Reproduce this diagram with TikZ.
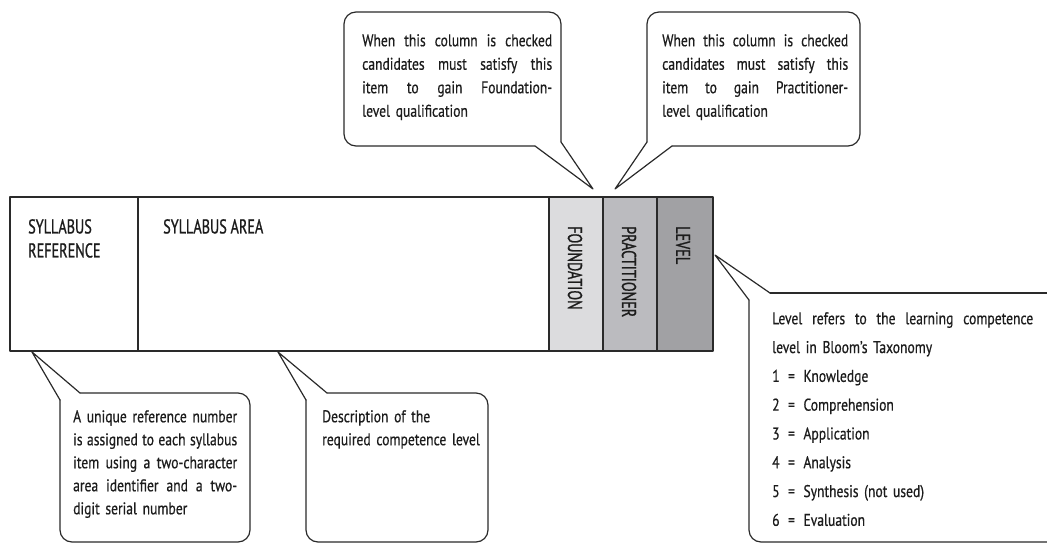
\documentclass[tikz,border=0pt]{standalone}
\usepackage{fontspec}
\setmainfont{PT Sans}
\newfontfamily\bodyf[FakeStretch=0.8,FakeBold=0.6]{PT Sans}
\newfontfamily\capf[FakeStretch=0.71,FakeBold=1.0]{PT Sans}
\definecolor{linec}{HTML}{2A2A2A}
\definecolor{textc}{HTML}{1C1C1C}
\definecolor{fcol}{HTML}{DCDCDE}
\definecolor{pcol}{HTML}{BBBBBF}
\definecolor{lcol}{HTML}{A1A1A4}
\newcommand\jline[2]{\leavevmode\hbox to #1{\spaceskip=0.25em plus 1fill\relax #2}}
\begin{document}
\begin{tikzpicture}[x=1pt,y=-1pt,
  outline/.style={draw=linec, line width=1.2pt, line join=round, line cap=round},
  bubble/.style={outline, rounded corners=12pt},
  body/.style={inner sep=0pt, anchor=north west, align=left, text=textc,
    font=\bodyf\fontsize{17}{23.5}\selectfont},
  head/.style={inner sep=0pt, anchor=north west, align=left, text=textc,
    font=\capf\fontsize{20}{24}\selectfont},
  vhead/.style={inner sep=0pt, anchor=west, rotate=-90, text=textc,
    font=\capf\fontsize{20}{24}\selectfont}]
\useasboundingbox (0,0) rectangle (1047,544);
\clip (0,0) rectangle (1047,544);

% main table row
\fill[fcol] (549,197) rectangle (603,351);
\fill[pcol] (603,197) rectangle (657,351);
\fill[lcol] (657,197) rectangle (713,351);
\draw[outline] (10,197) rectangle (713,351);
\draw[outline] (138,197) -- (138,351);
\draw[outline] (549,197) -- (549,351);
\draw[outline] (603,197) -- (603,351);
\draw[outline] (657,197) -- (657,351);

\node[head] (sref) at (28,219) {SYLLABUS\\REFERENCE};
\node[head] (sarea) at (163,219) {SYLLABUS AREA};
\node[vhead] (found) at (575,226) {FOUNDATION};
\node[vhead] (pract) at (629,226) {PRACTITIONER};
\node[vhead] (lev) at (683,226) {LEVEL};

% tail tips
\coordinate (tipF) at (593,189);
\coordinate (tipP) at (615,189);
\coordinate (tipL) at (715,255);
\coordinate (tipR) at (32,352);
\coordinate (tipA) at (278,352);

% callout 1 (Foundation)
\draw[bubble] (535,146) -- (344,146) -- (344,12) -- (561,12) -- (561,142);
\draw[outline] (561,142) -- (tipF) -- (535,146);
\node[body, text width=190pt] (c1) at (362,34) {%
\jline{190pt}{When this column is checked}\\
\jline{190pt}{candidates must satisfy this}\\
\jline{190pt}{item to gain Foundation-}\\
level qualification};

% callout 2 (Practitioner)
\draw[bubble] (672,146) -- (860,146) -- (860,12) -- (647,12) -- (647,142);
\draw[outline] (647,142) -- (tipP) -- (672,146);
\node[body, text width=186pt] (c2) at (662,34) {%
\jline{186pt}{When this column is checked}\\
\jline{186pt}{candidates must satisfy this}\\
\jline{186pt}{item to gain Practitioner-}\\
level qualification};

% callout 3 (Level)
\draw[bubble] (1070,293) -- (770,293);
\draw[outline] (770,293) -- (tipL) -- (749,300);
\draw[bubble] (749,300) -- (749,542) -- (1070,542);
\node[body, text width=261pt, font=\bodyf\fontsize{17}{28.8}\selectfont] (c3) at (772,312) {%
\jline{261pt}{Level refers to the learning competence}\\
level in Bloom’s Taxonomy\\
1 \,= \,Knowledge\\
2 \,= \,Comprehension\\
3 \,= \,Application\\
4 \,= \,Analysis\\
5 \,= \,Synthesis (not used)\\
6 \,= \,Evaluation};

% callout 4 (Reference)
\draw[bubble] (80,393) -- (250,393) -- (250,542) -- (60,542) -- (60,400);
\draw[outline] (60,400) -- (tipR) -- (80,393);
\node[body, text width=164pt, font=\bodyf\fontsize{17}{23}\selectfont] (c4) at (73,410) {%
\jline{164pt}{A unique reference number}\\
\jline{164pt}{is assigned to each syllabus}\\
\jline{164pt}{item using a two-character}\\
\jline{164pt}{area identifier and a two-}\\
digit serial number};

% callout 5 (Area)
\draw[bubble] (327,393) -- (488,393) -- (488,542) -- (306,542) -- (306,400);
\draw[outline] (306,400) -- (tipA) -- (327,393);
\node[body, text width=165pt, font=\bodyf\fontsize{17}{23}\selectfont] (c5) at (322,410) {%
Description of the\\
required competence level};
\end{tikzpicture}
\end{document}
